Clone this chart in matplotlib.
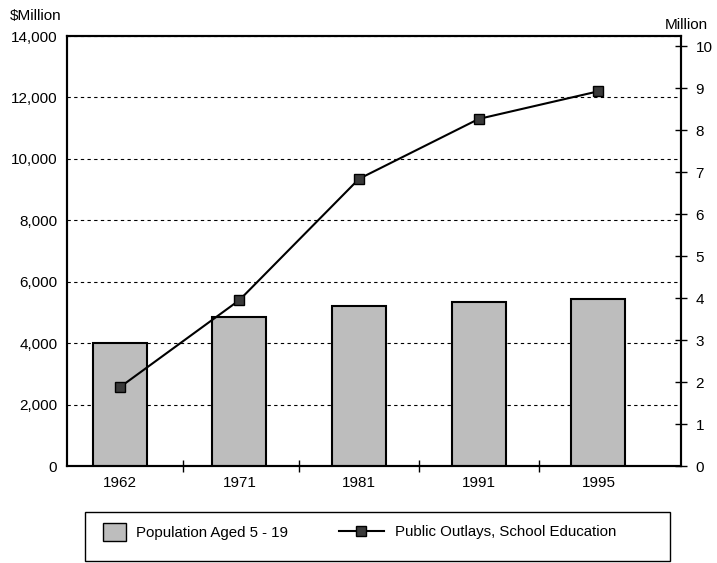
import matplotlib.pyplot as plt
from matplotlib.patches import Rectangle
from matplotlib.lines import Line2D
from matplotlib.ticker import FuncFormatter

# 数据
years = ['1962', '1971', '1981', '1991', '1995']
population = [2.93, 3.55, 3.81, 3.90, 3.98]          # Million, 右轴
outlays = [2560, 5400, 9350, 11300, 12200]           # $Million, 左轴
left_ticks = [0, 2000, 4000, 6000, 8000, 10000, 12000, 14000]
right_ticks = list(range(0, 11))

plt.rcParams['font.family'] = ['Liberation Sans', 'DejaVu Sans']

fig = plt.figure(figsize=(7.17, 5.63), dpi=100)
ax = fig.add_axes([67 / 717, 1 - 466 / 563, 614 / 717, 430 / 563])
ax2 = ax.twinx()

x = list(range(len(years)))

# 左轴：网格线
ax.set_ylim(0, 14000)
ax.set_yticks(left_ticks)
ax.yaxis.set_major_formatter(FuncFormatter(lambda v, p: f'{int(v):,}'))
ax.grid(axis='y', color='black', linestyle=(0, (3, 3)), linewidth=0.8)
ax.tick_params(axis='y', length=0, pad=7, labelsize=11)

# 右轴：柱状图 + 折线（折线按左轴刻度绘制）
ax2.set_ylim(0, 10.24)
ax2.set_yticks(right_ticks)
ax2.bar(x, population, width=0.45, color='#bdbdbd', edgecolor='black',
        linewidth=1.5, zorder=2)
ax2.plot(x, outlays, color='black', linewidth=1.5, marker='s', markersize=7.5,
         markerfacecolor='#3a3a3a', markeredgecolor='black',
         transform=ax.transData, zorder=3)
ax2.tick_params(axis='y', direction='inout', length=9, width=1, pad=6,
                labelsize=11)

ax.set_xlim(-0.44, 4.69)
ax.set_xticks(x)
ax.set_xticklabels(years)
ax.set_xticks([0.53, 1.5, 2.5, 3.5], minor=True)
ax.tick_params(axis='x', which='major', length=0, pad=7, labelsize=11)
ax.tick_params(axis='x', which='minor', direction='inout', length=9, width=1)

for a in (ax, ax2):
    for s in a.spines.values():
        s.set_linewidth(1.5)
        s.set_color('black')

fig.text(10 / 717, 1 - 16 / 563, '$Million', fontsize=11, va='center', ha='left')
fig.text(708 / 717, 1 - 25 / 563, 'Million', fontsize=11, va='center', ha='right')

# 图例（外框 + 两个条目）
fig.patches.append(Rectangle((85 / 717, 1 - 561 / 563), 585 / 717, 49 / 563,
                             transform=fig.transFigure, fill=False,
                             edgecolor='black', linewidth=1))
bar_handle = Rectangle((0, 0), 1, 1, facecolor='#bdbdbd', edgecolor='black', linewidth=1)
line_handle = Line2D([], [], color='black', linewidth=1.5, marker='s', markersize=7.5,
                     markerfacecolor='#3a3a3a', markeredgecolor='black')
fig.legend([bar_handle], ['Population Aged 5 - 19'],
           loc='center left', bbox_to_anchor=(89.5 / 717, 1 - 532 / 563),
           frameon=False, fontsize=10.8, handlelength=1.5, handleheight=1.5,
           handletextpad=0.73)
fig.legend([line_handle], ['Public Outlays, School Education'],
           loc='center left', bbox_to_anchor=(325 / 717, 1 - 532 / 563),
           frameon=False, fontsize=10.8, handlelength=3.0, handletextpad=0.75)

fig.savefig('out.png', dpi=100, facecolor='white')
